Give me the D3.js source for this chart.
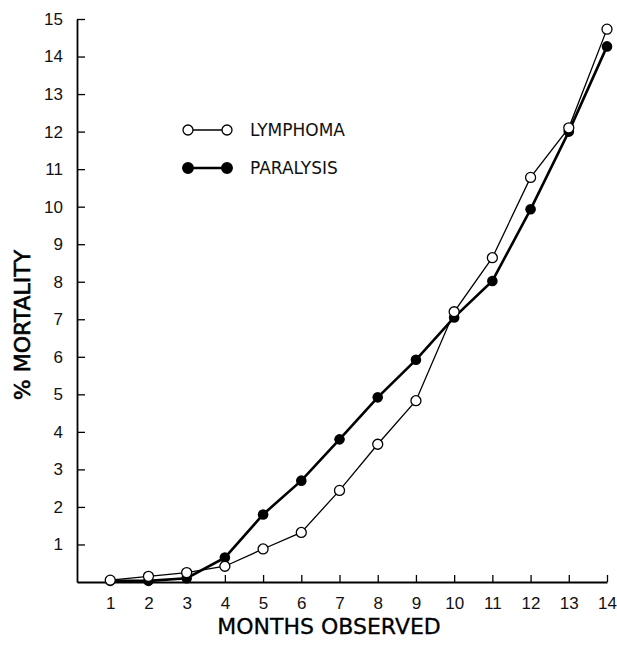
<!DOCTYPE html>
<html>
<head>
<meta charset="utf-8">
<script src="https://cdn.jsdelivr.net/npm/d3@7"></script>
<style>
    body { margin: 0; background: #fff; }
    svg { display: block; font-family: "DejaVu Sans", sans-serif; }
</style>
</head>
<body>
<div id="chart"></div>
<script>
var months = [1, 2, 3, 4, 5, 6, 7, 8, 9, 10, 11, 12, 13, 14];
var lymphoma = [0.05, 0.15, 0.25, 0.42, 0.88, 1.32, 2.44, 3.67, 4.83, 7.2, 8.64, 10.78, 12.1, 14.73];
var paralysis = [0.03, 0.03, 0.1, 0.65, 1.8, 2.7, 3.8, 4.92, 5.92, 7.05, 8.02, 9.93, 12.0, 14.27];
var yTicks = d3.range(1, 16);

var width = 617;
var height = 645;

var x = d3.scaleLinear()
    .domain([0.13, 14])
    .range([77, 607]);

var y = d3.scaleLinear()
    .domain([0, 15])
    .range([582, 19]);

const svg = d3.select("#chart").append("svg")
    .attr("width", width)
    .attr("height", height);

// x axis, ticks pointing up into the plot
var xAxis = g => g
    .attr("transform", `translate(0,${y(0)})`)
    .call(d3.axisBottom(x).tickValues(months).tickSize(-7).tickPadding(15).tickSizeOuter(0))
    .call(g => g.select(".domain").attr("stroke-width", 1.8))
    .call(g => g.selectAll(".tick line").attr("stroke-width", 1.3))
    .call(g => g.selectAll("text").attr("font-size", 17).attr("fill", "#111"));

var yAxis = g => g
    .attr("transform", `translate(${x(0.13)},0)`)
    .call(d3.axisLeft(y).tickValues(yTicks).tickSize(-8).tickPadding(14).tickSizeOuter(0))
    .call(g => g.select(".domain").attr("stroke-width", 1.8))
    .call(g => g.selectAll(".tick line").attr("stroke-width", 1.3))
    .call(g => g.selectAll("text").attr("font-size", 17).attr("fill", "#111"));

svg.append("g").call(xAxis);
svg.append("g").call(yAxis);

svg.append("text")
    .attr("x", 329)
    .attr("y", 634)
    .attr("text-anchor", "middle")
    .attr("font-size", 22)
    .attr("fill", "#000")
    .attr("stroke", "#000")
    .attr("stroke-width", 0.3)
    .text("MONTHS OBSERVED");

svg.append("text")
    .attr("transform", "translate(30,325) rotate(-90)")
    .attr("text-anchor", "middle")
    .attr("font-size", 22)
    .attr("fill", "#000")
    .attr("stroke", "#000")
    .attr("stroke-width", 0.6)
    .text("% MORTALITY");

var line = d3.line()
    .x((d, i) => x(months[i]))
    .y(d => y(d));

// paralysis: thick line, filled dots
svg.append("path")
    .datum(paralysis)
    .attr("fill", "none")
    .attr("stroke", "#000")
    .attr("stroke-width", 2.6)
    .attr("d", line);

svg.append("path")
    .datum(lymphoma)
    .attr("fill", "none")
    .attr("stroke", "#000")
    .attr("stroke-width", 1.3)
    .attr("d", line);

svg.append("g")
    .selectAll("circle")
    .data(paralysis)
    .join("circle")
    .attr("cx", (d, i) => x(months[i]))
    .attr("cy", d => y(d))
    .attr("r", 5.3)
    .attr("fill", "#000");

svg.append("g")
    .selectAll("circle")
    .data(lymphoma)
    .join("circle")
    .attr("cx", (d, i) => x(months[i]))
    .attr("cy", d => y(d))
    .attr("r", 5)
    .attr("fill", "#fff")
    .attr("stroke", "#000")
    .attr("stroke-width", 1.3);

// legend
var legend = [
    { name: "LYMPHOMA", fill: "#fff", width: 1.3, r: 5 },
    { name: "PARALYSIS", fill: "#000", width: 2.6, r: 5.3 }
];

var lg = svg.append("g")
    .selectAll("g")
    .data(legend)
    .join("g")
    .attr("transform", (d, i) => `translate(188,${130 + i * 38})`);

lg.append("line")
    .attr("x1", 0)
    .attr("x2", 39)
    .attr("stroke", "#000")
    .attr("stroke-width", d => d.width);

lg.selectAll("circle")
    .data(d => [d, d])
    .join("circle")
    .attr("cx", (d, i) => i * 39)
    .attr("r", d => d.r)
    .attr("fill", d => d.fill)
    .attr("stroke", "#000")
    .attr("stroke-width", 1.3);

lg.append("text")
    .attr("x", 62)
    .attr("dy", "0.36em")
    .attr("font-size", 17)
    .attr("fill", "#111")
    .text(d => d.name);
</script>
</body>
</html>
